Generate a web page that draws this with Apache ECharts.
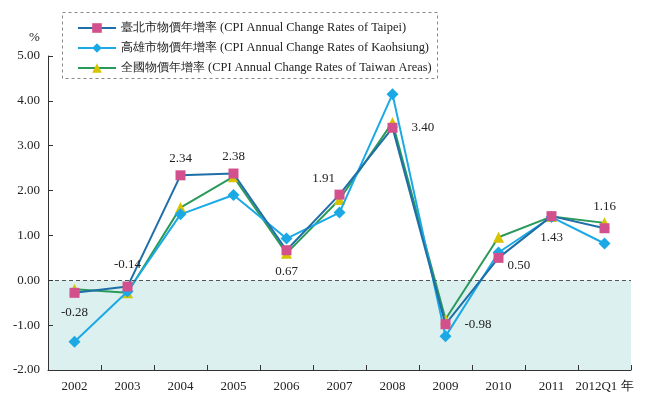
<!DOCTYPE html>
<html><head><meta charset="utf-8">
<script src="https://cdn.jsdelivr.net/npm/echarts@6/dist/echarts.min.js"></script>
<style>html,body{margin:0;padding:0;background:#fff}#c{width:650px;height:400px}</style>
</head><body><div id="c"></div>
<script>
const categories = ['2002','2003','2004','2005','2006','2007','2008','2009','2010','2011','2012Q1'];
const taipei = [-0.28,-0.14,2.34,2.38,0.67,1.91,3.40,-0.98,0.50,1.43,1.16];
const kaohsiung = [-1.37,-0.25,1.47,1.90,0.93,1.51,4.15,-1.25,0.62,1.41,0.82];
const taiwan = [-0.20,-0.28,1.62,2.31,0.60,1.80,3.52,-0.87,0.96,1.42,1.28];
const yTicks = [-2,-1,0,1,2,3,4,5];
const names = ['臺北市物價年增率 (CPI Annual Change Rates of Taipei)','高雄市物價年增率 (CPI Annual Change Rates of Kaohsiung)','全國物價年增率 (CPI Annual Change Rates of Taiwan Areas)'];

const labelPlace = [
  {position:'bottom',distance:8},
  {position:'top',distance:10},
  {position:'top',distance:5},
  {position:'top',distance:5},
  {position:'bottom',distance:10},
  {position:'top',distance:5,offset:[-16,0]},
  {position:'right',distance:14},
  {position:'right',distance:14},
  {position:'right',distance:4,offset:[0,8]},
  {position:'bottom',distance:10},
  {position:'top',distance:10}
];
const font = '"Liberation Serif", "Times New Roman", serif';
const chart = echarts.init(document.getElementById('c'));
chart.setOption({
  animation:false,
  textStyle:{fontFamily:font},
  grid:{left:48,right:19,top:56,bottom:30},
  legend:{
    orient:'vertical', left:72, top:17, itemGap:8, itemWidth:38, itemHeight:12,
    textStyle:{fontFamily:font,fontSize:12.4,color:'#222'},
    data:names
  },
  graphic:[
    {type:'rect',shape:{x:62.5,y:12.5,width:375,height:66},style:{fill:'none',stroke:'#888',lineWidth:1,lineDash:[3,3]},z:-1},
    {type:'text',left:29,top:31,style:{text:'%',font:'13px '+font,fill:'#222'}}
  ],
  xAxis:{
    type:'category',data:categories,boundaryGap:true,z:10,
    axisLine:{onZero:false,lineStyle:{color:'#333',width:1}},
    axisTick:{show:true,length:5,inside:true,interval:0,lineStyle:{color:'#333'}},
    axisLabel:{color:'#222',fontSize:13,margin:10,interval:0,fontFamily:font,
      formatter:function(v,i){return i===categories.length-1? v+' 年' : v;}}
  },
  yAxis:{
    type:'value',min:-2,max:5,interval:1,z:10,
    axisLine:{show:true,lineStyle:{color:'#333'}},
    axisTick:{show:true,length:5,inside:true,lineStyle:{color:'#333'}},
    splitLine:{show:false},
    axisLabel:{color:'#222',fontSize:13,margin:8,fontFamily:font,formatter:function(v){return v.toFixed(2);}}
  },
  series:[
    {
      name:names[2],type:'line',data:taiwan,symbol:'triangle',symbolSize:11,
      lineStyle:{color:'#2a9a5a',width:2},itemStyle:{color:'#d8c300'},z:3,
      markArea:{silent:true,itemStyle:{color:'#dcf0f0'},data:[[{yAxis:-2},{yAxis:0}]]},
      markLine:{silent:true,symbol:'none',label:{show:false},lineStyle:{color:'#555',type:[4,3],width:1},data:[{yAxis:0}]}
    },
    {
      name:names[1],type:'line',data:kaohsiung,symbol:'diamond',symbolSize:12,
      lineStyle:{color:'#1ba9e6',width:2},itemStyle:{color:'#1ba9e6'},z:4
    },
    {
      name:names[0],type:'line',symbol:'rect',symbolSize:10,
      data:taipei.map(function(v,i){return {value:v,label:labelPlace[i]};}),
      lineStyle:{color:'#1f6ea8',width:2},itemStyle:{color:'#d2508c'},z:5,
      label:{show:true,color:'#222',fontSize:13,fontFamily:font,formatter:function(p){return p.value.toFixed(2);}}
    }
  ]
});
</script></body></html>
